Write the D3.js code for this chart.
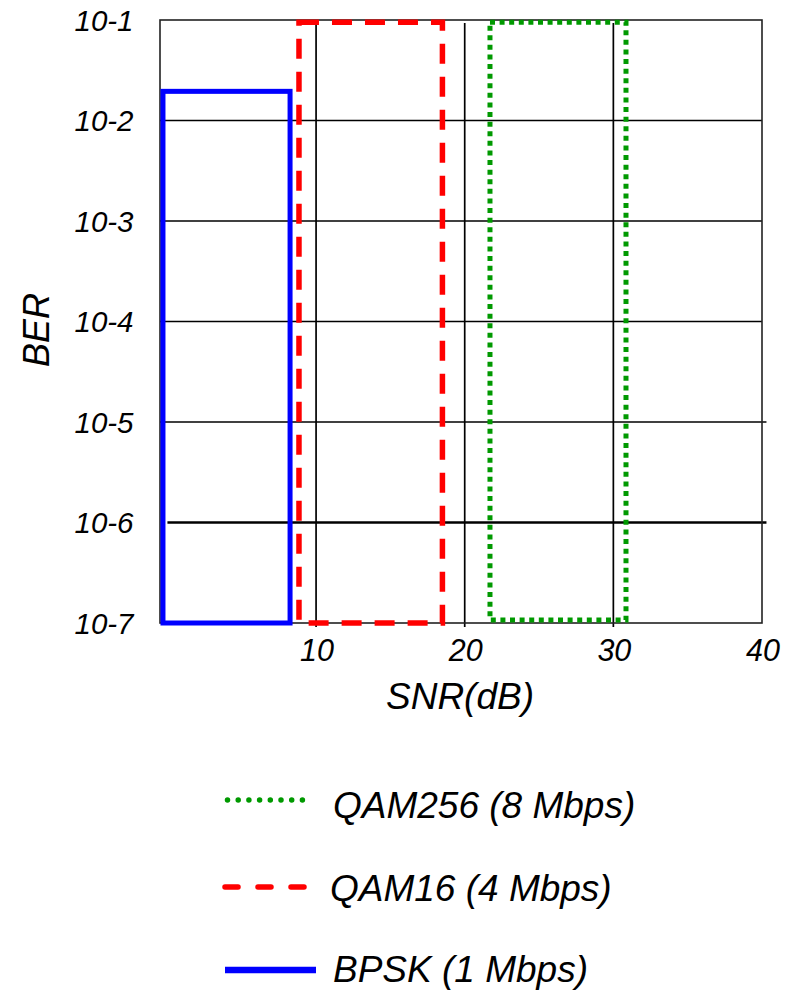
<!DOCTYPE html>
<html lang="en">
    <head>
        <meta charset="utf-8">
        <title>BER vs SNR</title>
        <script type="text/javascript" src="https://cdn.jsdelivr.net/npm/d3@7"></script>
        <style>
            body { margin: 0; background: #fff; }
            text { font-family: "Liberation Sans", Arial, sans-serif; font-style: italic; fill: #000; }
        </style>
    </head>
    <body>
        <script type="text/javascript">
            // modulation schemes, as in the legend (top to bottom)
            var series = ["QAM256 (8 Mbps)", "QAM16 (4 Mbps)", "BPSK (1 Mbps)"];
            var snrLow  = [21.7, 8.85, -0.3];
            var snrHigh = [30.85, 18.5, 8.25];
            var berLow  = [1.07e-7, 1e-7, 1e-7];
            var berHigh = [0.095, 0.095, 0.0195];
            var colors  = ["#009900", "#ff0000", "#0000ff"];
            var dashes  = ["5,4.6", "20,13", null];

            var yTicks = [1e-1, 1e-2, 1e-3, 1e-4, 1e-5, 1e-6, 1e-7];
            var yTickLabels = ["10-1", "10-2", "10-3", "10-4", "10-5", "10-6", "10-7"];
            var xTicks = [10, 20, 30, 40];

            var w = 790, h = 990;
            var x = d3.scaleLinear().domain([-0.5, 40]).range([160, 762]);
            var y = d3.scaleLog().domain([1e-7, 1e-1]).range([623, 20]);

            var svg = d3.select("body").append("svg")
                .attr("width", w)
                .attr("height", h);

            // grid
            var grid = svg.append("g");
            grid.selectAll("line.h")
                .data(yTicks.slice(1, 6))
              .enter().append("line")
                .attr("x1", function(d) { return d === 1e-6 ? x(0) : x(-0.5); })
                .attr("x2", function(d) { return d >= 1e-4 ? x(40) : x(40.3); })
                .attr("y1", function(d) { return y(d); })
                .attr("y2", function(d) { return y(d); })
                .attr("stroke", "#000")
                .attr("stroke-width", function(d) { return d === 1e-6 ? 2.4 : 1.7; });
            grid.selectAll("line.v")
                .data(xTicks.slice(0, 3))
              .enter().append("line")
                .attr("x1", function(d) { return x(d); })
                .attr("x2", function(d) { return x(d); })
                .attr("y1", y(1e-1) + 3)
                .attr("y2", y(1e-7) + 4)
                .attr("stroke", "#000")
                .attr("stroke-width", 1.7);

            // frame
            svg.append("rect")
                .attr("x", x(-0.5))
                .attr("y", y(1e-1))
                .attr("width", x(40) - x(-0.5))
                .attr("height", y(1e-7) - y(1e-1))
                .attr("fill", "none")
                .attr("stroke", "#222")
                .attr("stroke-width", 1.6);

            // regions
            svg.selectAll("rect.region")
                .data(series)
              .enter().append("rect")
                .attr("class", "region")
                .attr("x", function(d, i) { return x(snrLow[i]); })
                .attr("y", function(d, i) { return y(berHigh[i]); })
                .attr("width", function(d, i) { return x(snrHigh[i]) - x(snrLow[i]); })
                .attr("height", function(d, i) { return y(berLow[i]) - y(berHigh[i]); })
                .attr("fill", "none")
                .attr("stroke", function(d, i) { return colors[i]; })
                .attr("stroke-width", function(d, i) { return i === 1 ? 5.5 : 5; })
                .attr("stroke-dasharray", function(d, i) { return dashes[i]; });

            // y tick labels
            svg.selectAll("text.ytick")
                .data(yTicks)
              .enter().append("text")
                .attr("x", 104)
                .attr("y", function(d) { return y(d); })
                .attr("dy", "0.36em")
                .attr("text-anchor", "middle")
                .attr("font-size", 29.5)
                .text(function(d, i) { return yTickLabels[i]; });

            // x tick labels
            svg.selectAll("text.xtick")
                .data(xTicks)
              .enter().append("text")
                .attr("x", function(d) { return x(d) + 1; })
                .attr("y", 661)
                .attr("text-anchor", "middle")
                .attr("font-size", 30.5)
                .text(function(d) { return d; });

            // axis titles
            svg.append("text")
                .attr("x", 460)
                .attr("y", 709)
                .attr("text-anchor", "middle")
                .attr("font-size", 37)
                .text("SNR(dB)");
            svg.append("text")
                .attr("transform", "translate(49,330) rotate(-90)")
                .attr("text-anchor", "middle")
                .attr("font-size", 36)
                .text("BER");

            // legend
            var legY = [800, 887, 970];
            var legTextY = [818, 901, 982];
            var legX2 = [306, 304, 316];
            var leg = svg.selectAll("g.legend")
                .data(series)
              .enter().append("g");
            leg.append("line")
                .attr("x1", function(d, i) { return i === 0 ? 227.5 : 225; })
                .attr("x2", function(d, i) { return legX2[i]; })
                .attr("y1", function(d, i) { return legY[i]; })
                .attr("y2", function(d, i) { return legY[i]; })
                .attr("stroke", function(d, i) { return colors[i]; })
                .attr("stroke-width", function(d, i) { return i === 2 ? 6.5 : 5.5; })
                .attr("stroke-linecap", function(d, i) { return i === 2 ? "butt" : "round"; })
                .attr("stroke-dasharray", function(d, i) { return i === 0 ? "0,10.7" : (i === 1 ? "13,20" : null); });
            leg.append("text")
                .attr("x", function(d, i) { return i === 1 ? 330 : 333; })
                .attr("y", function(d, i) { return legTextY[i]; })
                .attr("font-size", 37)
                .text(function(d) { return d; });
        </script>
    </body>
</html>
